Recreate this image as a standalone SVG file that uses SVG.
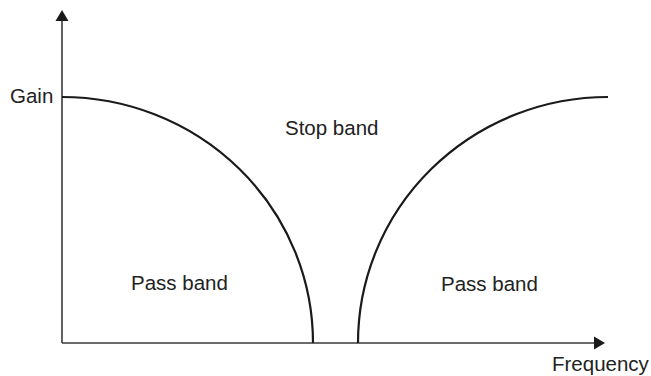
<svg xmlns="http://www.w3.org/2000/svg" width="651" height="376" viewBox="0 0 651 376">
<style>
.axis{stroke:#3a3a3a;stroke-width:1.6;fill:none}
.head{fill:#1a1a1a;stroke:none}
.curve{stroke:#1a1a1a;stroke-width:2.2;fill:none}
.lbl{font-family:"Liberation Sans",Arial,sans-serif;font-size:20.5px;fill:#222}
</style>
<rect width="651" height="376" fill="#fff"/>
<g id="connectors">
<line class="axis" x1="62" y1="343" x2="62" y2="20"/>
<polygon class="head" points="62,10 55.5,21 68.5,21"/>
<line class="axis" x1="62" y1="343" x2="595" y2="343"/>
<polygon class="head" points="605,343 594,336.5 594,349.5"/>
<path class="curve" d="M62,97 A251,246 0 0 1 313,343"/>
<path class="curve" d="M358,343 A250,246 0 0 1 608,97"/>
</g>
<g id="gain"><text class="lbl" x="10" y="103">Gain</text></g>
<g id="stopband"><text class="lbl" x="285" y="135">Stop band</text></g>
<g id="passband-left"><text class="lbl" x="131" y="290">Pass band</text></g>
<g id="passband-right"><text class="lbl" x="441" y="291">Pass band</text></g>
<g id="frequency"><text class="lbl" x="552" y="371">Frequency</text></g>
</svg>
